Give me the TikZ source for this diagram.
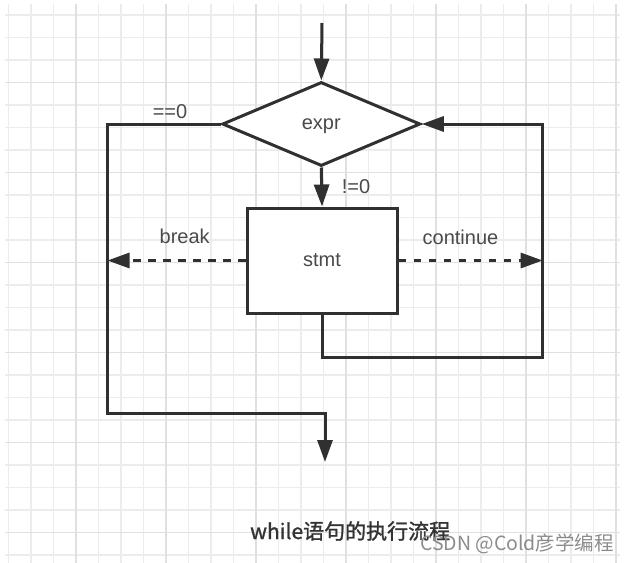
\documentclass[tikz,border=0pt]{standalone}
\usepackage{fontspec}
\setmainfont{Liberation Sans}
\newfontfamily\cjk{Noto Sans CJK SC}
\newfontfamily\capfont[FakeBold=1.2]{Noto Sans CJK SC}
\usetikzlibrary{shapes.geometric,arrows.meta}

\definecolor{ink}{HTML}{303030}
\definecolor{labelc}{HTML}{4A4A4A}
\definecolor{capc}{HTML}{333333}
\definecolor{gridminor}{HTML}{ECECEC}
\definecolor{gridmajor}{HTML}{E0E0E0}
\definecolor{wmark}{HTML}{8C8C8C}

\begin{document}
\begin{tikzpicture}[x=1pt,y=-1pt,
  line/.style={draw=ink,line width=3pt},
  flow/.style={line,-{Triangle[length=22pt,width=15pt]}},
  jump/.style={flow,dash pattern=on 7.7pt off 7.3pt},
  decision/.style={diamond,line,fill=white,minimum width=198pt,minimum height=84pt,
    inner sep=0pt,text=labelc,text height=10pt,text depth=0pt,
    font=\fontsize{20}{22}\selectfont},
  process/.style={rectangle,line,fill=white,minimum width=150pt,minimum height=105pt,
    inner sep=0pt,text=labelc,font=\fontsize{20}{22}\selectfont},
  lab/.style={inner sep=0pt,anchor=base,text=labelc,font=\fontsize{20}{22}\selectfont},
  gminor/.style={draw=gridminor,line width=1.6pt},
  gmajor/.style={draw=gridmajor,line width=1.6pt}]

% page and background
\useasboundingbox (0,0) rectangle (625,563);
\fill[white] (0,0) rectangle (625,563);

% squared paper
\foreach \i in {0,...,27} {
  \draw[gminor] ({8.3+22.5*\i},4) -- ({8.3+22.5*\i},563);
}
\foreach \j in {0,...,24} {
  \draw[gminor] (5,{15+22.5*\j}) -- (620,{15+22.5*\j});
}
\foreach \i in {3,7,11,15,19,23,27} {
  \draw[gmajor] ({8.3+22.5*\i},4) -- ({8.3+22.5*\i},563);
}
\foreach \j in {3,7,11,15,19,23} {
  \draw[gmajor] (5,{15+22.5*\j}) -- (620,{15+22.5*\j});
}

% shapes
\node[decision] (d) at (321.3,124) {expr};
\node[process] (s) at (322,260.5) {stmt};

% helper points for the connectors
\coordinate (start) at (322,23);
\coordinate (L) at (107.5,413);
\coordinate (exit) at (325,462);
\coordinate (R) at (542.7,357.5);

% connectors
\draw[flow] (start) -- (d.north);
\draw[flow] (d.south) -- (s.north);
\draw[flow] (d.west) -| (L) -| (exit);
\draw[flow] (s.south) |- (R) |- (d.east);
\draw[jump] (s.west) -- (s.west -| L);
\draw[jump] (s.east) -- (s.east -| R);

% labels
\node[lab] (ne) at (356,193) {!=0};
\node[lab] (eq) at (170,118.5) {==0};
\node[lab] (brk) at (184.7,243.5) {break};
\node[lab] (cont) at (460.5,244) {continue};

% caption and mark
\node[inner sep=0pt,anchor=base west,text=capc,font=\capfont\fontsize{21}{23}\selectfont]
  (cap) at (250,539) {while语句的执行流程};
\node[inner sep=0pt,anchor=base west,text=wmark,font=\cjk\fontsize{19.5}{20}\selectfont]
  (wm) at (420,550.5) {CSDN @Cold彦学编程};
\end{tikzpicture}
\end{document}
